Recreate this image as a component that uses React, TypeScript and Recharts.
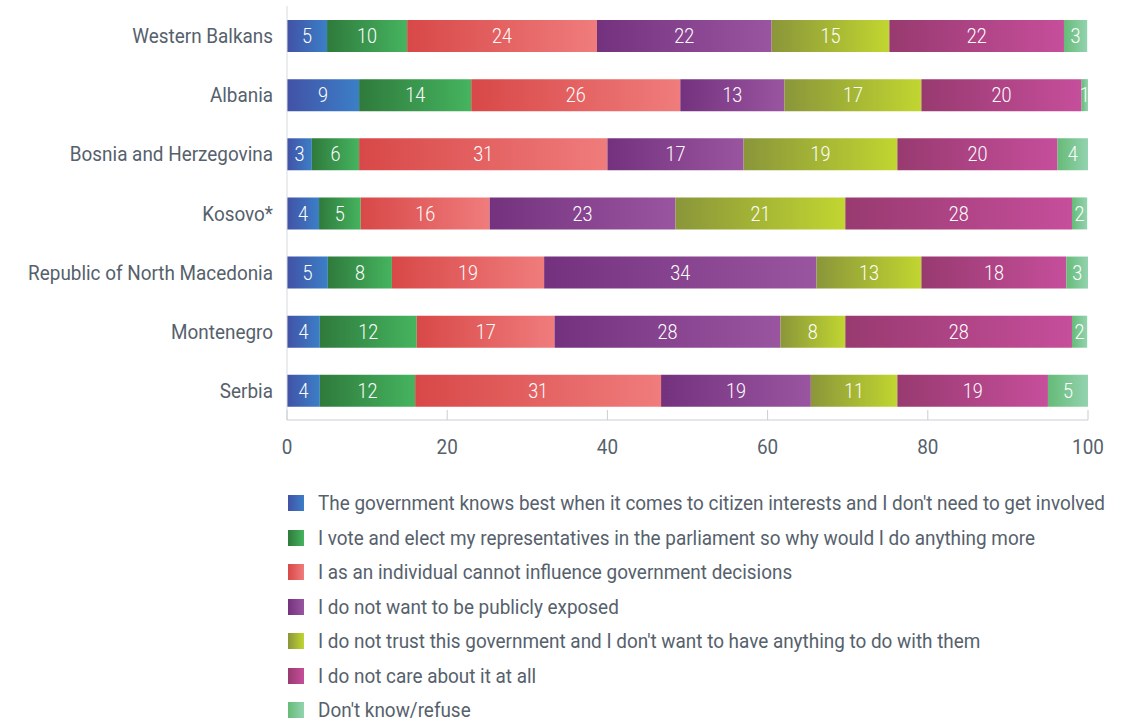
import React from "react";
import { Bar, BarChart, LabelList, XAxis, YAxis } from "recharts";

const countries = [
  "Western Balkans",
  "Albania",
  "Bosnia and Herzegovina",
  "Kosovo*",
  "Republic of North Macedonia",
  "Montenegro",
  "Serbia",
];

const govKnowsBest = [5.0, 9.0, 3.1, 4.0, 5.1, 4.1, 4.1];
const voteElect = [10.0, 14.0, 5.9, 5.2, 8.0, 12.1, 11.9];
const cannotInfluence = [23.7, 26.1, 31.0, 16.1, 19.0, 17.2, 30.7];
const notExposed = [21.8, 13.0, 17.0, 23.2, 34.0, 28.2, 18.7];
const noTrust = [14.7, 17.1, 19.2, 21.2, 13.1, 8.1, 10.8];
const notCare = [21.8, 20.0, 20.0, 28.3, 18.1, 28.3, 18.8];
const dontKnow = [2.9, 0.9, 3.9, 1.9, 2.7, 1.9, 5.0];

const xTicks = [0, 20, 40, 60, 80, 100];

const series = [
  { key: "gov", values: govKnowsBest, name: "The government knows best when it comes to citizen interests and I don't need to get involved", from: "#4252a6", to: "#3b7fc7" },
  { key: "vote", values: voteElect, name: "I vote and elect my representatives in the parliament so why would I do anything more", from: "#2f7a3c", to: "#45b45f" },
  { key: "influence", values: cannotInfluence, name: "I as an individual cannot influence government decisions", from: "#d84848", to: "#f07c7c" },
  { key: "exposed", values: notExposed, name: "I do not want to be publicly exposed", from: "#74327e", to: "#9a55a0" },
  { key: "trust", values: noTrust, name: "I do not trust this government and I don't want to have anything to do with them", from: "#8a963a", to: "#c1d630" },
  { key: "care", values: notCare, name: "I do not care about it at all", from: "#983a70", to: "#c64e9b" },
  { key: "dk", values: dontKnow, name: "Don't know/refuse", from: "#66bb77", to: "#93d3b0" },
];

const rows = countries.map((name, i) => {
  const row: Record<string, string | number> = { name };
  series.forEach((s) => {
    row[s.key] = s.values[i];
  });
  return row;
});

const FONT = "Roboto, 'Noto Sans', sans-serif";
const TEXT = "#56616c";
const SQUEEZE = 0.9;

function CountryTick({ x, y, payload }: any) {
  return (
    <text
      transform={`translate(${x - 14}, ${y}) scale(${SQUEEZE}, 1)`}
      textAnchor="end"
      dy="0.36em"
      fill={TEXT}
      fontSize={21}
      fontFamily={FONT}
    >
      {payload.value}
    </text>
  );
}

function ValueTick({ x, y, payload }: any) {
  return (
    <g>
      <line x1={x} x2={x} y1={y - 10} y2={y} stroke="#c9ced3" strokeWidth={1} />
      <text
        transform={`translate(${x}, ${y + 34}) scale(${SQUEEZE}, 1)`}
        textAnchor="middle"
        fill={TEXT}
        fontSize={21}
        fontFamily={FONT}
      >
        {payload.value}
      </text>
    </g>
  );
}

function SegmentLabel({ x, y, width, height, value }: any) {
  return (
    <text
      transform={`translate(${x + width / 2}, ${y + height / 2}) scale(${SQUEEZE}, 1)`}
      textAnchor="middle"
      dy="0.36em"
      fill="#ffffff"
      fontSize={20}
      fontWeight={300}
      fontFamily={FONT}
    >
      {Math.round(value)}
    </text>
  );
}

export default function App() {
  return (
    <div style={{ position: "absolute", left: 0, top: 0, width: 1125, height: 722, background: "#fff" }}>
      <BarChart
        width={1125}
        height={722}
        data={rows}
        layout="vertical"
        margin={{ top: 6, right: 37, bottom: 262, left: 0 }}
        barSize={32}
      >
        <defs>
          {series.map((s) => (
            <linearGradient key={s.key} id={`g-${s.key}`} x1="0" y1="0" x2="1" y2="0">
              <stop offset="0%" stopColor={s.from} />
              <stop offset="100%" stopColor={s.to} />
            </linearGradient>
          ))}
        </defs>
        <XAxis
          type="number"
          domain={[0, 100]}
          ticks={xTicks}
          allowDataOverflow
          axisLine={{ stroke: "#c9ced3" }}
          tickLine={false}
          tickSize={0}
          tickMargin={0}
          tick={<ValueTick />}
          height={40}
        />
        <YAxis
          type="category"
          dataKey="name"
          width={287}
          axisLine={{ stroke: "#d5d9dd" }}
          tickLine={false}
          tickSize={0}
          tickMargin={0}
          tick={<CountryTick />}
          interval={0}
        />
        {series.map((s) => (
          <Bar key={s.key} dataKey={s.key} name={s.name} stackId="a" fill={`url(#g-${s.key})`} isAnimationActive={false}>
            <LabelList dataKey={s.key} content={<SegmentLabel />} />
          </Bar>
        ))}
      </BarChart>
      <div style={{ position: "absolute", left: 288, top: 486 }}>
        {series.map((s) => (
          <div key={s.key} style={{ height: 34.5, display: "flex", alignItems: "center", whiteSpace: "nowrap" }}>
            <span
              style={{
                width: 16,
                height: 16,
                background: `linear-gradient(to right, ${s.from}, ${s.to})`,
                display: "inline-block",
                flex: "none",
              }}
            />
            <span
              style={{
                marginLeft: 14,
                fontFamily: FONT,
                fontSize: 21,
                color: TEXT,
                display: "inline-block",
                transform: `scaleX(${SQUEEZE})`,
                transformOrigin: "left center",
              }}
            >
              {s.name}
            </span>
          </div>
        ))}
      </div>
    </div>
  );
}
